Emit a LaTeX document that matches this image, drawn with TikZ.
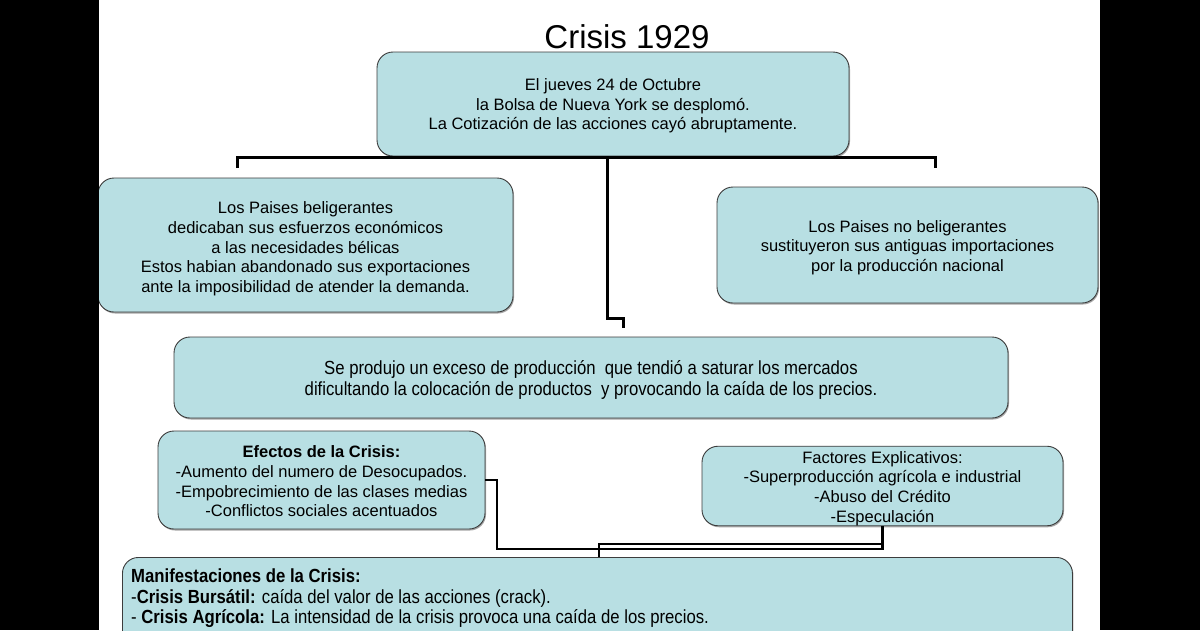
\documentclass[tikz,border=0pt]{standalone}
\usepackage{fontspec}
\setmainfont{Liberation Sans}
\newfontfamily\narrowfont{Liberation Sans}[FakeStretch=0.88]
\usetikzlibrary{shadows}
\definecolor{boxfill}{RGB}{184,223,227}
\definecolor{boxline}{RGB}{60,60,60}
\newcommand\normsz{\fontsize{16.5pt}{19.7pt}\selectfont}
\newcommand\narsz{\narrowfont\fontsize{19pt}{20.4pt}\selectfont}
\newcommand\liftstrut[1]{\rule{0pt}{#1}}
\begin{document}
\begin{tikzpicture}[x=1pt,y=-1pt,
  box/.style={draw=boxline, line width=0.9pt, fill=boxfill, rounded corners=16pt,
    inner sep=0pt, align=center, font=\normsz,
    drop shadow={shadow xshift=1pt, shadow yshift=-1.5pt, fill=black, opacity=0.35}},
  conn/.style={draw=black, line width=3pt},
  connb/.style={draw=black, line width=2.3pt}]
\useasboundingbox (0,0) rectangle (1200,630);
\fill[white] (0,0) rectangle (1200,630);

\node[font=\fontsize{33pt}{36pt}\selectfont] (title) at (627,37) {Crisis 1929};

\node[box, minimum width=472, minimum height=104] (top) at (613,104)
  {\liftstrut{16pt}El jueves 24 de Octubre\\la Bolsa de Nueva York se desplomó.\\La Cotización de las acciones cayó abruptamente.};

\node[box, minimum width=415, minimum height=134] (bel) at (305.5,245)
  {\liftstrut{20pt}Los Paises beligerantes\\dedicaban sus esfuerzos económicos\\a las necesidades bélicas\\Estos habian abandonado sus exportaciones\\ante la imposibilidad de atender la demanda.};

\node[box, minimum width=381, minimum height=116] (nobel) at (907.5,245)
  {\liftstrut{17pt}Los Paises no beligerantes\\sustituyeron sus antiguas importaciones\\por la producción nacional};

\node[box, minimum width=834, minimum height=81, font=\narsz] (exc) at (591,377.5)
  {\liftstrut{19pt}Se produjo un exceso de producción\ \ que tendió a saturar los mercados\\dificultando la colocación de productos\ \ y provocando la caída de los precios.};

\node[box, minimum width=327, minimum height=98] (efe) at (321.5,480)
  {\liftstrut{15pt}\textbf{Efectos de la Crisis:}\\-Aumento del numero de Desocupados.\\-Empobrecimiento de las clases medias\\-Conflictos sociales acentuados};

\node[box, minimum width=361, minimum height=78] (fac) at (882.5,486)
  {\liftstrut{17pt}Factores Explicativos:\\-Superproducción agrícola e industrial\\-Abuso del Crédito\\-Especulación};

\node[box, anchor=north west, minimum width=950, minimum height=110] (man) at (122,557) {};
\node[anchor=north west, align=left, inner sep=0pt, font=\narsz] (mantext) at ([shift={(9pt,-12pt)}]man.north west)
  {\textbf{Manifestaciones de la Crisis:}\\-\textbf{Crisis Bursátil:} caída del valor de las acciones (crack).\\- \textbf{Crisis Agrícola:} La intensidad de la crisis provoca una caída de los precios.};

% top connectors
\coordinate (barL) at (237,157.5);
\coordinate (barR) at (935,157.5);
\coordinate (dropL) at (237,168);
\coordinate (dropR) at (935,168);
\coordinate (stemTop) at (607,157.5);
\coordinate (bend1) at (607,318);
\coordinate (bend2) at (623,318);
\coordinate (stemEnd) at (623,328);
\draw[conn] (dropL) -- (barL) -- (barR) -- (dropR);
\draw[conn] (stemTop) -- (bend1) -- (bend2) -- (stemEnd);

% bottom connectors
\coordinate (e1) at (497,480);
\coordinate (e2) at (497,549);
\draw[connb] (efe.east) -- (e1) -- (e2) -| (fac.south);
\coordinate (j) at (599,544);
\draw[connb] (man.north -| j) -- (j) -- (j -| fac.south);

% black side bars
\fill[black] (0,0) rectangle (99,630);
\fill[black] (1100,0) rectangle (1200,630);
\end{tikzpicture}
\end{document}
